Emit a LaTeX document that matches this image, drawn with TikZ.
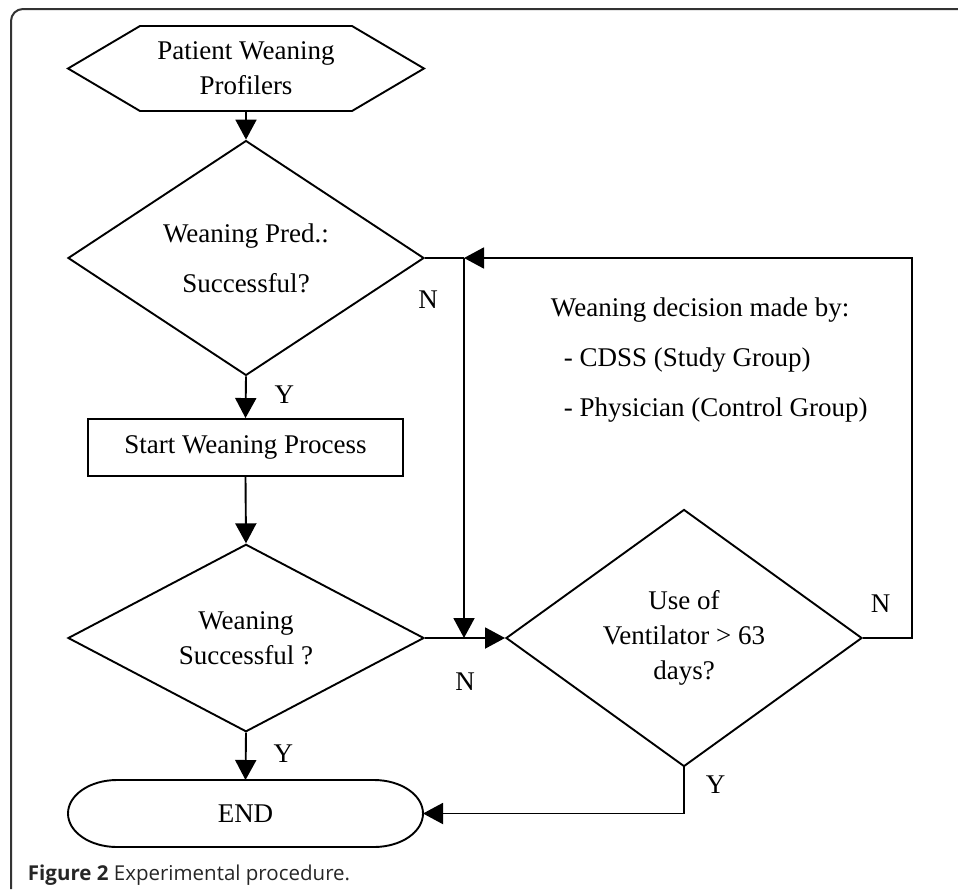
\documentclass[tikz,border=0pt]{standalone}
\usepackage{fontspec}
\setmainfont{Liberation Serif}
\newfontfamily\capfont{Open Sans}
\usetikzlibrary{shapes.geometric}
\usetikzlibrary{positioning}
\usetikzlibrary{arrows.meta}
\definecolor{framegray}{HTML}{333333}

\begin{document}
\begin{tikzpicture}[x=1pt, y=-1pt, line width=1.9pt,
        every node/.style={font=\fontsize{27}{35}\selectfont},
        flow/.style={-{Triangle[length=20pt,width=21pt]}},
        decision/.style={diamond, draw, inner sep=0pt, minimum width=356pt, minimum height=#1, align=center},
        process/.style={rectangle, draw, minimum width=315pt, minimum height=57pt, inner sep=0pt},
        lbl/.style={inner sep=0pt}]
        \useasboundingbox (0,0) rectangle (958,889);
        \draw[framegray, line width=2pt, rounded corners=12pt] (11,889) -- (11,9) -- (958,9);

        \node[minimum width=356pt, minimum height=85pt, inner sep=0pt, outer sep=0pt, align=center] (profile) at (246,68.5) {Patient Weaning\\Profilers};
        \draw[line join=miter] (profile.west) -- ([xshift=72pt]profile.north west) -- ([xshift=-72pt]profile.north east)
            -- (profile.east) -- ([xshift=-72pt]profile.south east) -- ([xshift=72pt]profile.south west) -- cycle;
        \node[decision=191pt] (pred) at (246,258) {Weaning Pred.:\\[15pt]Successful?};
        \node[process] (start) at (245.5,447.5) {Start Weaning Process};
        \node[decision=168pt] (wean) at (246,638) {Weaning\\Successful ?};
        \node[decision=201pt] (vent) at (684,638) {Use of\\Ventilator > 63\\days?};
        \node[minimum width=355pt, minimum height=67pt, inner sep=0pt, outer sep=0pt] (finish) at (245.5,813.5) {END};
        \draw ([xshift=49pt]finish.north west) -- ([xshift=-49pt]finish.north east)
            arc[start angle=90, end angle=-90, x radius=49pt, y radius=33.5pt]
            -- ([xshift=49pt]finish.south west)
            arc[start angle=-90, end angle=-270, x radius=49pt, y radius=33.5pt] -- cycle;
        \node[anchor=west, align=left, inner sep=0pt] (who) at (550,360)
            {Weaning decision made by:\\[15pt]\hspace{13pt}- CDSS (Study Group)\\[15pt]\hspace{13pt}- Physician (Control Group)};

        \coordinate (split) at (464,258);
        \coordinate (merge) at (464,638);
        \coordinate (backbot) at (912,638);
        \coordinate (backtop) at (912,258);

        \draw[flow] (profile.south) -- (pred.north);
        \draw[flow] (pred.south) -- node[lbl, pos=0.43, right=28pt] {Y} (start.north);
        \draw[flow] (start.south) -- (wean.north);
        \draw[flow] (wean.south) -- node[lbl, pos=0.45, right=27pt] {Y} (finish.north);
        \draw (pred.east) -- node[lbl, pos=0.08, below=32pt] {N} (split);
        \draw[flow] (split) -- (merge);
        \draw[flow] (wean.east) -- node[lbl, below=34pt] {N} (vent.west);
        \draw[flow] (vent.east) -- node[lbl, pos=0.36, above=25pt] {N} (backbot) -- (backtop) -- (split);
        \draw[flow] (vent.south) |- node[lbl, pos=0.19, right=21pt] {Y} (finish.east);

        \node[anchor=base west, inner sep=0pt, font=\capfont\fontsize{20.5}{22}\selectfont, text=black!85] (caption) at (27,880)
            {\textbf{Figure 2} Experimental procedure.};
\end{tikzpicture}
\end{document}
